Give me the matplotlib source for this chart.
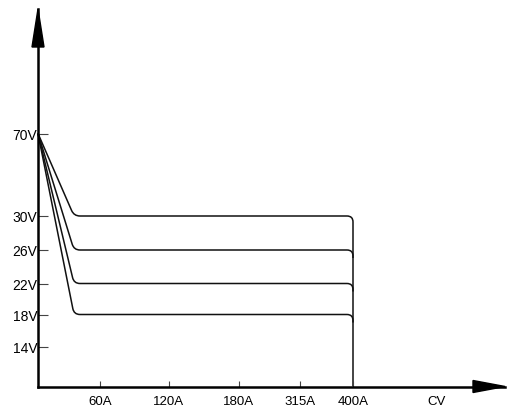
import numpy as np
import matplotlib
matplotlib.use("Agg")
import matplotlib.pyplot as plt
from matplotlib.path import Path
from matplotlib.patches import PathPatch, Polygon

plt.rcParams['font.family'] = ['Liberation Sans', 'DejaVu Sans']

# schematic scale positions (chart is not to scale)
y_labels = ['70V', '30V', '26V', '22V', '18V', '14V']
y_pos = [253, 170.5, 136.5, 103, 72, 39.5]
x_labels = ['60A', '120A', '180A', '315A', '400A']
x_pos = [62, 131, 201, 262, 315]
cv_label = 'CV'
cv_pos = 399

curve_volts = ['30V', '26V', '22V', '18V']
start_volt = '70V'
knee_x = 36          # where the drooping segment reaches the set voltage
end_label = '400A'   # curves end at max current

W, H = 507, 410
fig = plt.figure(figsize=(W / 100, H / 100), dpi=100)
x0px, y0px, xtip, ytip = 38, 387.5, 505, 10
ax = fig.add_axes([x0px / W, (H - y0px) / H, (xtip - x0px) / W, (y0px - ytip) / H])
ax.set_xlim(0, xtip - x0px)
ax.set_ylim(0, y0px - ytip)
xmax, ymax = xtip - x0px, y0px - ytip

for s in ['top', 'right']:
    ax.spines[s].set_visible(False)
for s in ['left', 'bottom']:
    ax.spines[s].set_linewidth(1.8)
    ax.spines[s].set_color('black')

ax.set_yticks(y_pos)
ax.set_yticklabels(y_labels)
ax.set_xticks(x_pos)
ax.set_xticklabels(x_labels)
ax.set_xticks([cv_pos], [cv_label], minor=True)
ax.tick_params(axis='y', direction='in', length=7.5, width=0.8, color='#444', pad=0.5, labelsize=10)
ax.tick_params(axis='x', which='major', direction='in', length=4.5, width=0.8, color='#444', pad=6, labelsize=9.5)
ax.tick_params(axis='x', which='minor', length=0, pad=6, labelsize=9.5)

# arrow heads
ax.add_patch(Polygon([[-6, ymax - 38], [6, ymax - 38], [0, ymax]], closed=True,
                     color='black', clip_on=False, zorder=5))
ax.add_patch(Polygon([[xmax - 32, -6], [xmax - 32, 6], [xmax, 0]], closed=True,
                     color='black', clip_on=False, zorder=5))

ymap = dict(zip(y_labels, y_pos))
xmap = dict(zip(x_labels, x_pos))
y_start = ymap[start_volt]
x_end = xmap[end_label]
r = 6

for i, v in enumerate(curve_volts):
    L = ymap[v]
    d = np.array([knee_x - 0.0, L - y_start])
    u = d / np.hypot(*d)
    p1 = np.array([knee_x, L]) - r * u
    bottom = 0 if i == 0 else L - r - 2
    verts = [(0, y_start), tuple(p1), (knee_x, L), (knee_x + r, L),
             (x_end - r, L), (x_end, L), (x_end, L - r), (x_end, bottom)]
    codes = [Path.MOVETO, Path.LINETO, Path.CURVE3, Path.CURVE3,
             Path.LINETO, Path.CURVE3, Path.CURVE3, Path.LINETO]
    ax.add_patch(PathPatch(Path(verts, codes), fill=False, lw=1.1, edgecolor='#111',
                           clip_on=False))

fig.savefig('out.png', dpi=100)
